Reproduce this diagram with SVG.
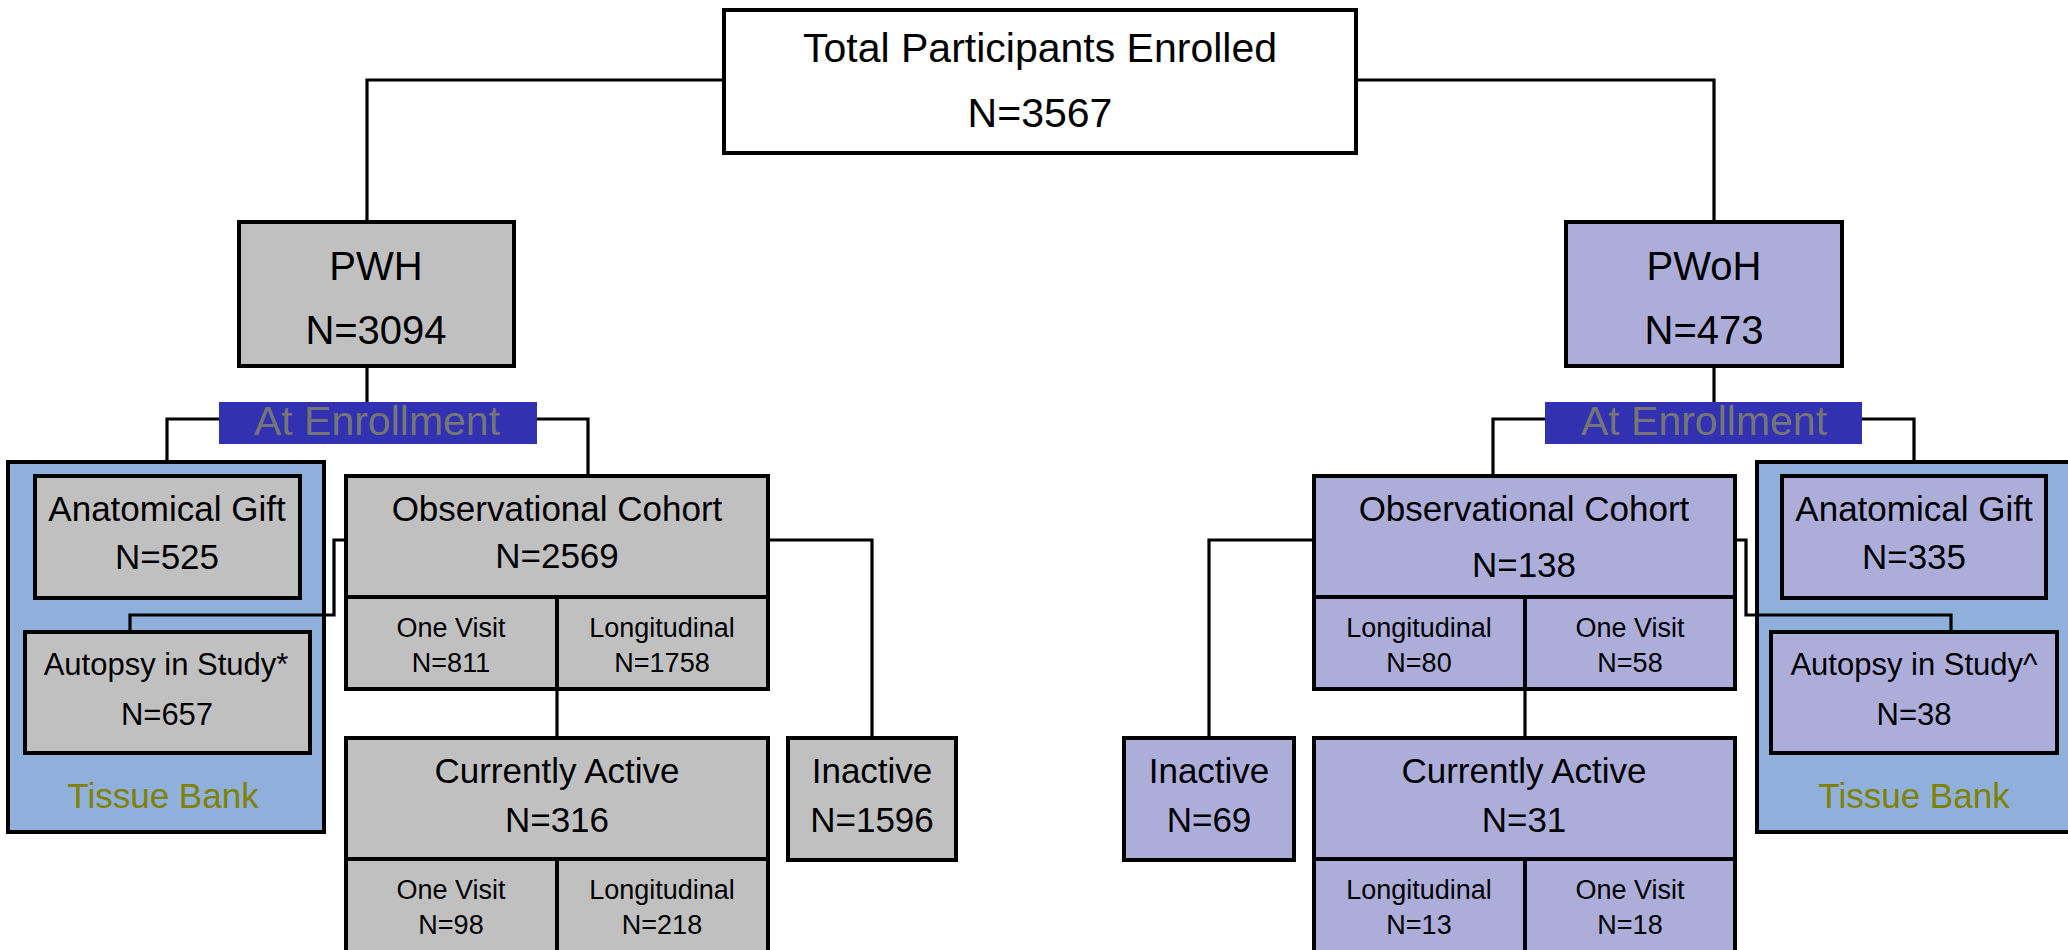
<svg xmlns="http://www.w3.org/2000/svg" width="2068" height="950" viewBox="0 0 2068 950">
<style>
text{font-family:"Liberation Sans",Arial,sans-serif;text-anchor:middle;fill:#000}
.box{stroke:#000;stroke-width:4}
.w{fill:#fff}
.g{fill:#c0c0c0}
.p{fill:#adadda}
.b{fill:#8fb0da}
.lbl{fill:#3131b1}
.t41{font-size:41px}
.t40{font-size:40px}
.t35{font-size:35px}
.t31{font-size:31px}
.t27{font-size:27px}
.en{fill:#757575}
.tb{fill:#808000}
.con{fill:none;stroke:#000;stroke-width:3.2}
</style>
<rect width="2068" height="950" fill="#fff"/>
<g id="total">
<rect class="box w" x="724" y="10" width="632" height="143"/>
<text class="t41" x="1040" y="62">Total Participants Enrolled</text>
<text class="t41" x="1040" y="127">N=3567</text>
</g>
<g id="pwh">
<rect class="box g" x="239" y="222" width="275" height="144"/>
<text class="t40" x="376" y="280">PWH</text>
<text class="t40" x="376" y="344">N=3094</text>
</g>
<g id="pwoh">
<rect class="box p" x="1566" y="222" width="276" height="144"/>
<text class="t40" x="1704" y="280">PWoH</text>
<text class="t40" x="1704" y="344">N=473</text>
</g>
<g id="enroll-left">
<rect class="lbl" x="219" y="402" width="318" height="42"/>
<text class="t41 en" x="377" y="435">At Enrollment</text>
</g>
<g id="enroll-right">
<rect class="lbl" x="1545" y="402" width="317" height="42"/>
<text class="t41 en" x="1704" y="435">At Enrollment</text>
</g>
<g id="tissue-left">
<rect class="box b" x="8" y="462" width="316" height="370"/>
<text class="t35 tb" x="163" y="808">Tissue Bank</text>
</g>
<g id="gift-left">
<rect class="box g" x="35" y="476" width="265" height="122"/>
<text class="t35" x="167" y="521">Anatomical Gift</text>
<text class="t35" x="167" y="569">N=525</text>
</g>
<g id="autopsy-left">
<rect class="box g" x="25" y="632" width="285" height="121"/>
<text class="t31" x="166" y="675">Autopsy in Study*</text>
<text class="t31" x="167" y="725">N=657</text>
</g>
<g id="obs-left">
<rect class="box g" x="346" y="476" width="422" height="121"/>
<text class="t35" x="557" y="521">Observational Cohort</text>
<text class="t35" x="557" y="568">N=2569</text>
<rect class="box g" x="346" y="597" width="211" height="92"/>
<rect class="box g" x="557" y="597" width="211" height="92"/>
<text class="t27" x="451" y="637">One Visit</text>
<text class="t27" x="451" y="672">N=811</text>
<text class="t27" x="662" y="637">Longitudinal</text>
<text class="t27" x="662" y="672">N=1758</text>
</g>
<g id="active-left">
<rect class="box g" x="346" y="738" width="422" height="121"/>
<text class="t35" x="557" y="783">Currently Active</text>
<text class="t35" x="557" y="832">N=316</text>
<rect class="box g" x="346" y="859" width="211" height="100"/>
<rect class="box g" x="557" y="859" width="211" height="100"/>
<text class="t27" x="451" y="899">One Visit</text>
<text class="t27" x="451" y="934">N=98</text>
<text class="t27" x="662" y="899">Longitudinal</text>
<text class="t27" x="662" y="934">N=218</text>
</g>
<g id="inactive-left">
<rect class="box g" x="788" y="738" width="168" height="122"/>
<text class="t35" x="872" y="783">Inactive</text>
<text class="t35" x="872" y="832">N=1596</text>
</g>
<g id="tissue-right">
<rect class="box b" x="1757" y="462" width="320" height="370"/>
<text class="t35 tb" x="1914" y="808">Tissue Bank</text>
</g>
<g id="gift-right">
<rect class="box p" x="1782" y="476" width="264" height="122"/>
<text class="t35" x="1914" y="521">Anatomical Gift</text>
<text class="t35" x="1914" y="569">N=335</text>
</g>
<g id="autopsy-right">
<rect class="box p" x="1771" y="632" width="286" height="121"/>
<text class="t31" x="1914" y="675">Autopsy in Study^</text>
<text class="t31" x="1914" y="725">N=38</text>
</g>
<g id="obs-right">
<rect class="box p" x="1314" y="476" width="421" height="121"/>
<text class="t35" x="1524" y="521">Observational Cohort</text>
<text class="t35" x="1524" y="577">N=138</text>
<rect class="box p" x="1314" y="597" width="211" height="92"/>
<rect class="box p" x="1525" y="597" width="210" height="92"/>
<text class="t27" x="1419" y="637">Longitudinal</text>
<text class="t27" x="1419" y="672">N=80</text>
<text class="t27" x="1630" y="637">One Visit</text>
<text class="t27" x="1630" y="672">N=58</text>
</g>
<g id="active-right">
<rect class="box p" x="1314" y="738" width="421" height="121"/>
<text class="t35" x="1524" y="783">Currently Active</text>
<text class="t35" x="1524" y="832">N=31</text>
<rect class="box p" x="1314" y="859" width="211" height="100"/>
<rect class="box p" x="1525" y="859" width="210" height="100"/>
<text class="t27" x="1419" y="899">Longitudinal</text>
<text class="t27" x="1419" y="934">N=13</text>
<text class="t27" x="1630" y="899">One Visit</text>
<text class="t27" x="1630" y="934">N=18</text>
</g>
<g id="inactive-right">
<rect class="box p" x="1124" y="738" width="170" height="122"/>
<text class="t35" x="1209" y="783">Inactive</text>
<text class="t35" x="1209" y="832">N=69</text>
</g>
<g id="connectors">
<polyline class="con" points="724,80 367,80 367,222"/>
<polyline class="con" points="1356,80 1714,80 1714,222"/>
<line class="con" x1="367" y1="366" x2="367" y2="402"/>
<line class="con" x1="1714" y1="366" x2="1714" y2="402"/>
<polyline class="con" points="219,419 167,419 167,462"/>
<polyline class="con" points="537,419 588,419 588,476"/>
<polyline class="con" points="1545,419 1493,419 1493,476"/>
<polyline class="con" points="1862,419 1914,419 1914,462"/>
<polyline class="con" points="346,540 334,540 334,615 130,615 130,632"/>
<polyline class="con" points="768,540 872,540 872,738"/>
<line class="con" x1="557" y1="689" x2="557" y2="738"/>
<polyline class="con" points="1735,540 1746,540 1746,615 1951,615 1951,632"/>
<polyline class="con" points="1314,540 1209,540 1209,738"/>
<line class="con" x1="1525" y1="689" x2="1525" y2="738"/>
</g>
</svg>
